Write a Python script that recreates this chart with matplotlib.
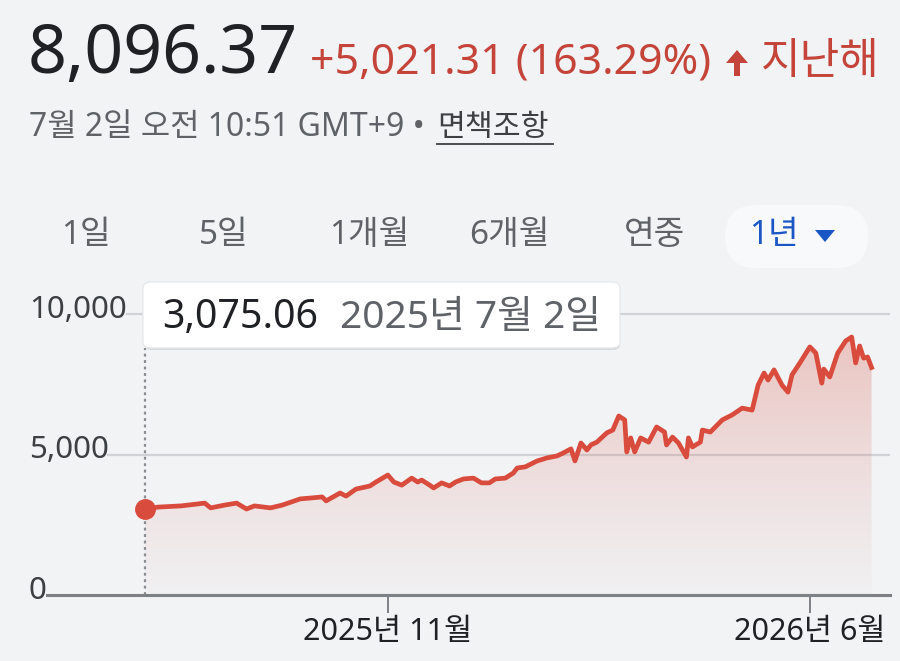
import matplotlib
matplotlib.use("Agg")
import matplotlib.pyplot as plt
import matplotlib.dates as mdates
from matplotlib.patches import FancyBboxPatch, Polygon
from matplotlib.colors import LinearSegmentedColormap
import numpy as np
import pandas as pd

# price series
dates = [
    "2025-07-02", "2025-07-09", "2025-07-20", "2025-08-01", "2025-08-04", "2025-08-11",
    "2025-08-17", "2025-08-22", "2025-08-26", "2025-09-03", "2025-09-09", "2025-09-18",
    "2025-09-23", "2025-09-29", "2025-10-01", "2025-10-08", "2025-10-11", "2025-10-16",
    "2025-10-23", "2025-10-26", "2025-11-01", "2025-11-04", "2025-11-08", "2025-11-13",
    "2025-11-16", "2025-11-18", "2025-11-22", "2025-11-24", "2025-11-28", "2025-12-02",
    "2025-12-05", "2025-12-09", "2025-12-14", "2025-12-18", "2025-12-22", "2025-12-25",
    "2025-12-30", "2026-01-03", "2026-01-05", "2026-01-09", "2026-01-11", "2026-01-15",
    "2026-01-20", "2026-01-25", "2026-01-28", "2026-02-01", "2026-02-03", "2026-02-06",
    "2026-02-09", "2026-02-11", "2026-02-14", "2026-02-19", "2026-02-22", "2026-02-25",
    "2026-02-28", "2026-03-01", "2026-03-03", "2026-03-05", "2026-03-08", "2026-03-12",
    "2026-03-16", "2026-03-20", "2026-03-21", "2026-03-24", "2026-03-27", "2026-03-31",
    "2026-04-01", "2026-04-03", "2026-04-07", "2026-04-08", "2026-04-12", "2026-04-18",
    "2026-04-23", "2026-04-28", "2026-05-03", "2026-05-06", "2026-05-09", "2026-05-11",
    "2026-05-14", "2026-05-18", "2026-05-21", "2026-05-23", "2026-05-27", "2026-06-01",
    "2026-06-04", "2026-06-07", "2026-06-08", "2026-06-11", "2026-06-15", "2026-06-19",
    "2026-06-22", "2026-06-24", "2026-06-26", "2026-06-28", "2026-06-30", "2026-07-02",
]
values = [
    3075, 3130, 3170, 3270, 3100, 3200,
    3270, 3060, 3170, 3100, 3200, 3420,
    3450, 3490, 3350, 3630, 3520, 3770,
    3880, 4020, 4270, 4020, 3910, 4160,
    4020, 4090, 3910, 3810, 3990, 3880,
    4020, 4130, 4160, 3990, 3990, 4130,
    4160, 4340, 4520, 4560, 4630, 4770,
    4880, 4950, 5050, 5200, 4770, 5410,
    5160, 5340, 5440, 5770, 5870, 6370,
    6230, 5090, 5590, 5090, 5590, 5440,
    5980, 5800, 5340, 5620, 5410, 4910,
    5590, 5270, 5440, 5870, 5800, 6230,
    6410, 6650, 6580, 7470, 7900, 7650,
    8010, 7470, 7220, 7830, 8260, 8830,
    8610, 7540, 8040, 7760, 8610, 9040,
    9180, 8260, 8860, 8430, 8470, 8096,
]
y_ticks = [0, 5000, 10000]
y_tick_labels = ["0", "5,000", "10,000"]
x_ticks = ["2025-11-01", "2026-06-01"]
x_tick_labels = ["2025년 11월", "2026년 6월"]
tabs = ["1일", "5일", "1개월", "6개월", "연중"]

FONT = ["Noto Sans", "Noto Sans CJK KR", "DejaVu Sans"]
plt.rcParams["font.family"] = FONT

BG = "#f1f3f5"
RED = "#d94c3d"
W, H = 900, 661


def fx(px):
    return px / W


def fy(py):
    return 1 - py / H


fig = plt.figure(figsize=(9, 6.61), dpi=100, facecolor=BG)

# chart area: pixel x 0..890, y 290..595
ax = fig.add_axes([fx(0), fy(595), fx(890), fy(290) - fy(595)])
ax.set_facecolor(BG)
for s in ax.spines.values():
    s.set_visible(False)

t = mdates.date2num(pd.to_datetime(dates))
v = np.array(values, dtype=float)
t0 = t[0]
px_per_day = 1.9906
ax.set_xlim(t0 - 145 / px_per_day, t0 + (890 - 145) / px_per_day)
ymax = 305 / 140.5 * 5000
ax.set_ylim(0, ymax)

# gridlines + labels
grid_start = {0: 47, 5000: 108, 10000: 127}
for yt, lab in zip(y_ticks, y_tick_labels):
    if yt == 0:
        ax.axhline(0, xmin=grid_start[0] / 890, xmax=1, color="#7d8185", lw=2.2,
                   clip_on=False, zorder=4)
    else:
        ax.axhline(yt, xmin=grid_start[yt] / 890, xmax=1, color="#cfd2d6", lw=1.6, zorder=1)
    fig.text(fx(29), fy(595 - yt / 5000 * 140.5) + 4 / H, lab, fontsize=22.5,
             color="#3c4043", ha="left", va="center")

# gradient fill under the line
cmap = LinearSegmentedColormap.from_list(
    "fade", [(0.88, 0.55, 0.50, 0.03), (0.86, 0.36, 0.30, 0.38)])
grad = np.linspace(0, 1, 256).reshape(-1, 1)
im = ax.imshow(grad, cmap=cmap, aspect="auto", origin="lower",
               extent=[t[0], t[-1], 0, ymax], zorder=2)
poly = Polygon(np.column_stack([np.r_[t[0], t, t[-1]], np.r_[0, v, 0]]),
               closed=True, facecolor="none", edgecolor="none")
ax.add_patch(poly)
im.set_clip_path(poly)

ax.plot(t, v, color=RED, lw=3.4, solid_joinstyle="round", zorder=5)
ax.plot(t0, v[0], "o", color=RED, ms=14, zorder=6, clip_on=False)

# dotted hover line
ax.axvline(t0, ymin=0, ymax=(595 - 348) / 305, color="#8a8d91", lw=1.6,
           ls=(0, (1.3, 1.6)), zorder=3)

# x ticks
ax.set_yticks([])
ax.set_xticks(mdates.date2num(pd.to_datetime(x_ticks)))
ax.set_xticklabels(x_tick_labels, fontsize=22, color="#202124")
ax.tick_params(axis="x", direction="out", length=13, width=1.4, color="#7d8185", pad=3)

# tooltip box
shadow = FancyBboxPatch((fx(145), fy(350)), fx(620) - fx(145), fy(285) - fy(350),
                        boxstyle="round,pad=0,rounding_size=0.008",
                        transform=fig.transFigure, facecolor="#000000", alpha=0.10,
                        edgecolor="none", zorder=9)
fig.patches.append(shadow)
box = FancyBboxPatch((fx(143), fy(348)), fx(620) - fx(143), fy(282) - fy(348),
                     boxstyle="round,pad=0,rounding_size=0.009",
                     transform=fig.transFigure, facecolor="white",
                     edgecolor="#e3e5e8", lw=0.8, zorder=10)
fig.patches.append(box)
fig.text(fx(162), fy(318), "3,075.06", fontsize=28.3, color="#202124",
         ha="left", va="center", zorder=11)
fig.text(fx(340), fy(318), "2025년 7월 2일", fontsize=28, color="#5f6368",
         ha="left", va="center", zorder=11)

# header
fig.text(fx(28), fy(55), "8,096.37", fontsize=49, color="#202124", ha="left", va="center")
fig.text(fx(310), fy(63), "+5,021.31 (163.29%)", fontsize=30.8, color="#c5443a",
         ha="left", va="center")
arrow = Polygon([[fx(726), fy(63)], [fx(737), fy(50)], [fx(748), fy(63)],
                 [fx(740), fy(63)], [fx(740), fy(76)], [fx(734), fy(76)], [fx(734), fy(63)]],
                closed=True, transform=fig.transFigure, facecolor="#c5443a", edgecolor="none")
fig.patches.append(arrow)
fig.text(fx(761), fy(63), "지난해", fontsize=31, color="#c5443a", ha="left", va="center")

fig.text(fx(29), fy(128), "7월 2일 오전 10:51 GMT+9 • ", fontsize=23, color="#5f6368",
         ha="left", va="center")
fig.text(fx(437), fy(128), "면책조항", fontsize=21.8, color="#3c4043",
         ha="left", va="center")
fig.lines.append(plt.Line2D([fx(437), fx(553)], [fy(144), fy(144)],
                            transform=fig.transFigure, color="#3c4043", lw=1.3))

# period tabs
tab_x = [61, 199, 329, 469, 624]
for tx, lab in zip(tab_x, tabs):
    fig.text(fx(tx), fy(236), lab, fontsize=24, color="#5f6368", ha="left", va="center")
pill = FancyBboxPatch((fx(725), fy(268)), fx(868) - fx(725), fy(205) - fy(268),
                      boxstyle="round,pad=0,rounding_size=0.035",
                      transform=fig.transFigure, facecolor="#f8f9fa", edgecolor="none",
                      zorder=0, mutation_aspect=900 / 661)
fig.patches.append(pill)
fig.text(fx(749), fy(236), "1년", fontsize=24, color="#1a57c4", ha="left", va="center")
tri = Polygon([[fx(815), fy(230)], [fx(835), fy(230)], [fx(825), fy(242)]], closed=True,
              transform=fig.transFigure, facecolor="#1a57c4", edgecolor="none")
fig.patches.append(tri)

fig.savefig("out.png", dpi=100, facecolor=BG)
